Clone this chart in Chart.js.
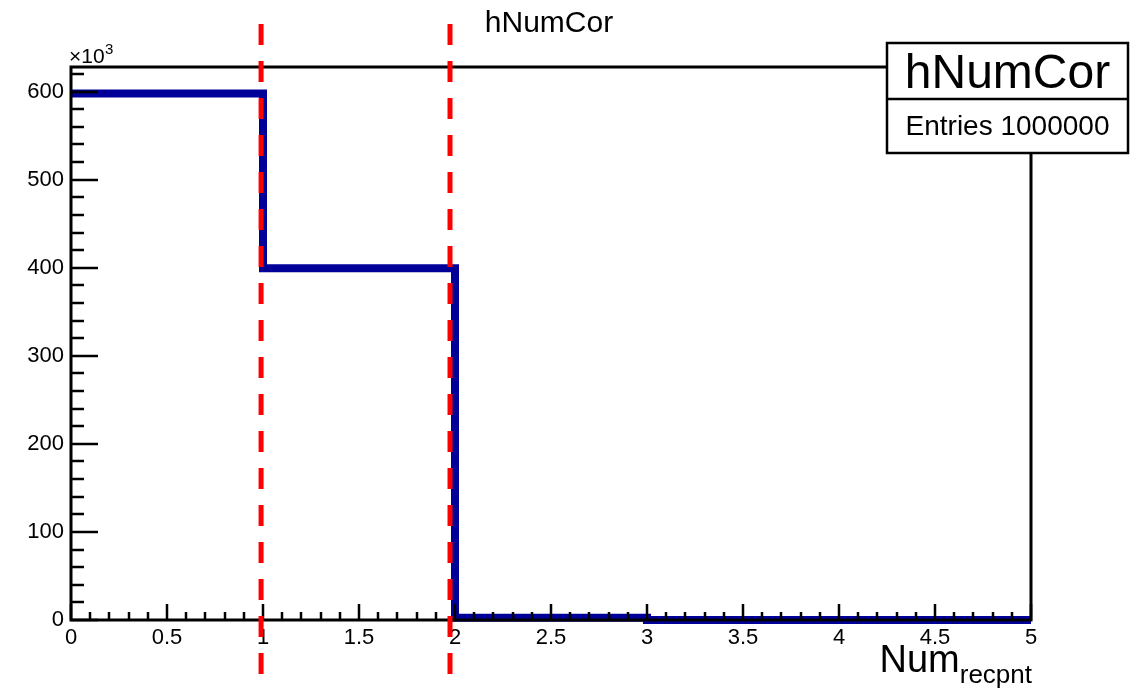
<!DOCTYPE html>
<html>
<head>
<meta charset="utf-8">
<title>hNumCor</title>
<script src="https://cdn.jsdelivr.net/npm/chart.js@4/dist/chart.umd.min.js"></script>
<style>
  html, body { margin: 0; padding: 0; background: #fff; }
  canvas { display: block; }
</style>
</head>
<body>
<canvas id="c" width="1138" height="690"></canvas>
<script>
// Histogram hNumCor: bin edges and per-bin counts
const binEdges = [0, 1, 2, 3, 4, 5];
const binCounts = [598000, 399500, 2500, 0, 0];

// Cut positions marked with dashed red lines
const cutValues = [0.99, 1.974];

// Axis tick values and labels
const xTickValues = [0, 0.5, 1, 1.5, 2, 2.5, 3, 3.5, 4, 4.5, 5];
const xTickLabels = ['0', '0.5', '1', '1.5', '2', '2.5', '3', '3.5', '4', '4.5', '5'];
const yTickValues = [0, 100000, 200000, 300000, 400000, 500000, 600000];
const yTickLabels = ['0', '100', '200', '300', '400', '500', '600'];

const histName = 'hNumCor';
const entries = 1000000;

const FONT = '"Liberation Sans", Arial, Helvetica, sans-serif';

// Step outline: the segment leaving each edge sits at that bin's count
const stepPoints = binEdges.map((e, i) => ({ x: e, y: binCounts[Math.min(i, binCounts.length - 1)] }));

const rootDecor = {
  id: 'rootDecor',
  afterDatasetsDraw(chart) {
    const ctx = chart.ctx;
    const a = chart.chartArea;
    const xs = chart.scales.x, ys = chart.scales.y;
    ctx.save();

    // frame
    ctx.strokeStyle = '#000';
    ctx.lineWidth = 3;
    ctx.lineJoin = 'miter';
    ctx.beginPath();
    ctx.moveTo(a.left, a.bottom); ctx.lineTo(a.left, a.top);
    ctx.lineTo(a.right, a.top); ctx.lineTo(a.right, a.bottom);
    ctx.closePath();
    ctx.stroke();

    // x ticks (inward, upward)
    ctx.lineWidth = 2.5;
    ctx.beginPath();
    for (let k = 0; k <= 50; k++) {
      const v = k * 0.1;
      const px = Math.round(xs.getPixelForValue(v));
      const len = (k % 5 === 0) ? 16 : 8;
      ctx.moveTo(px, a.bottom); ctx.lineTo(px, a.bottom - len);
    }
    // y ticks (inward, rightward)
    for (let v = 0; v <= ys.max; v += 20000) {
      const py = Math.round(ys.getPixelForValue(v));
      const len = (v % 100000 === 0) ? 27 : 13;
      ctx.moveTo(a.left, py); ctx.lineTo(a.left + len, py);
    }
    ctx.stroke();

    // dashed cut lines
    ctx.strokeStyle = '#ff0000';
    ctx.lineWidth = 5;
    ctx.setLineDash([21, 16]);
    cutValues.forEach(v => {
      const px = xs.getPixelForValue(v);
      ctx.beginPath();
      ctx.moveTo(px, 24); ctx.lineTo(px, 684);
      ctx.stroke();
    });
    ctx.setLineDash([]);

    // exponent label on the y axis
    ctx.fillStyle = '#000';
    ctx.textBaseline = 'alphabetic';
    ctx.textAlign = 'left';
    ctx.font = '21px ' + FONT;
    ctx.fillText('\u00d710', 69, 63);
    const w10 = ctx.measureText('\u00d710').width;
    ctx.font = '15px ' + FONT;
    ctx.fillText('3', 69 + w10 + 0.5, 54);

    // title
    ctx.font = '30px ' + FONT;
    ctx.textAlign = 'center';
    ctx.fillText(histName, 549, 32);

    // x axis title with subscript
    ctx.textAlign = 'left';
    ctx.font = '38px ' + FONT;
    const wMain = ctx.measureText('Num').width;
    ctx.font = '26px ' + FONT;
    const wSub = ctx.measureText('recpnt').width;
    const x0 = 1032 - wMain - wSub;
    ctx.font = '38px ' + FONT;
    ctx.fillText('Num', x0, 672);
    ctx.font = '26px ' + FONT;
    ctx.fillText('recpnt', x0 + wMain, 683);

    // statistics box
    const bx = 887, by = 43, bw = 241, bh = 110, div = 99;
    ctx.fillStyle = '#fff';
    ctx.fillRect(bx, by, bw, bh);
    ctx.strokeStyle = '#000';
    ctx.lineWidth = 2.5;
    ctx.strokeRect(bx, by, bw, bh);
    ctx.beginPath();
    ctx.moveTo(bx, div); ctx.lineTo(bx + bw, div);
    ctx.stroke();
    ctx.fillStyle = '#000';
    ctx.textAlign = 'center';
    ctx.font = '48px ' + FONT;
    ctx.fillText(histName, bx + bw / 2, 88);
    ctx.font = '28px ' + FONT;
    ctx.fillText('Entries ' + entries, bx + bw / 2, 135);

    ctx.restore();
  }
};

new Chart(document.getElementById('c'), {
  type: 'line',
  data: {
    datasets: [{
      label: histName,
      data: stepPoints,
      stepped: 'before',
      borderColor: '#000099',
      borderWidth: 8,
      borderJoinStyle: 'miter',
      borderCapStyle: 'butt',
      pointRadius: 0,
      fill: false,
      clip: false
    }]
  },
  options: {
    responsive: false,
    animation: false,
    devicePixelRatio: 1,
    layout: { padding: { left: 0, right: 107, top: 67, bottom: 0 } },
    plugins: { legend: { display: false }, title: { display: false }, tooltip: { enabled: false } },
    scales: {
      x: {
        type: 'linear',
        min: 0, max: 5,
        grid: { display: false, drawTicks: false, tickLength: 0 },
        border: { display: false },
        afterFit(s) { s.height = 70; },
        afterBuildTicks(s) { s.ticks = xTickValues.map(v => ({ value: v })); },
        ticks: {
          autoSkip: false, maxRotation: 0, padding: 5,
          color: '#000',
          font: { family: FONT, size: 22 },
          callback: (v, i) => xTickLabels[i]
        }
      },
      y: {
        type: 'linear',
        min: 0, max: 628000,
        grid: { display: false, drawTicks: false, tickLength: 0 },
        border: { display: false },
        afterFit(s) { s.width = 71; },
        afterBuildTicks(s) { s.ticks = yTickValues.map(v => ({ value: v })); },
        ticks: {
          autoSkip: false, padding: 7,
          color: '#000',
          font: { family: FONT, size: 22 },
          callback: (v, i) => yTickLabels[i]
        }
      }
    }
  },
  plugins: [rootDecor]
});
</script>
</body>
</html>
